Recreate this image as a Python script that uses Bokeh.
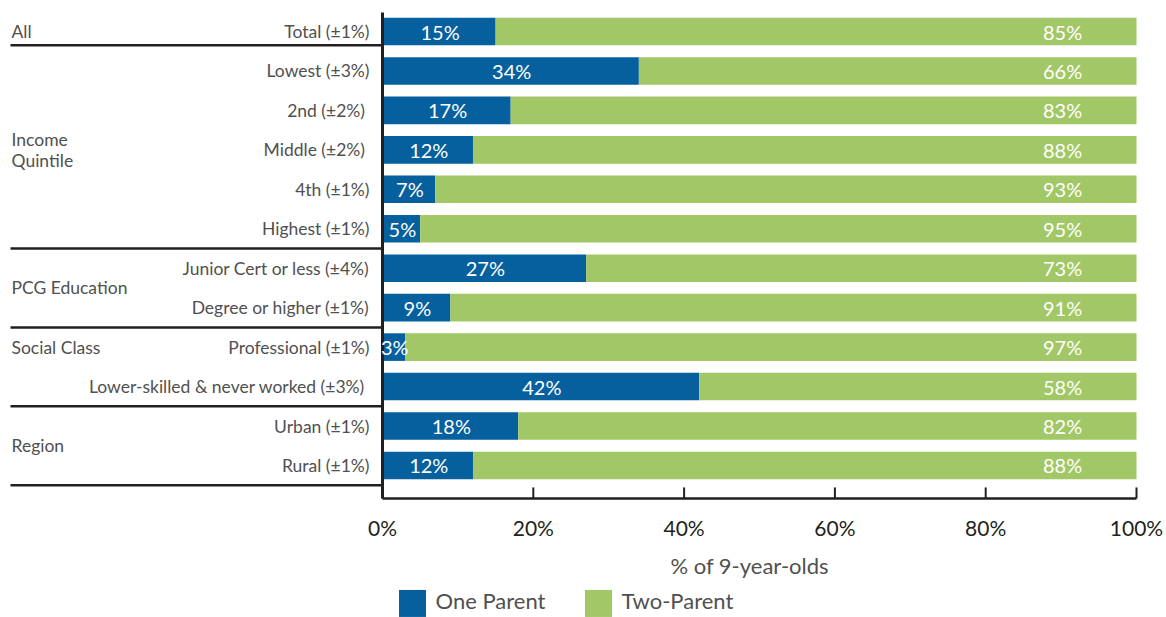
from bokeh.plotting import figure
from bokeh.models import Range1d, ColumnDataSource
from bokeh.embed import file_html
from bokeh.resources import INLINE
from bokeh.core.properties import value

# ---------------- data ----------------
categories = [
    "Total (±1%)", "Lowest (±3%)", "2nd  (±2%)", "Middle  (±2%)", "4th (±1%)",
    "Highest (±1%)", "Junior Cert or less (±4%)", "Degree or higher (±1%)",
    "Professional (±1%)", "Lower-skilled & never worked  (±3%)",
    "Urban (±1%)", "Rural (±1%)",
]
one_parent = [15, 34, 17, 12, 7, 5, 27, 9, 3, 42, 18, 12]
two_parent = [85, 66, 83, 88, 93, 95, 73, 91, 97, 58, 82, 88]
groups = ["All", "Income\nQuintile", "PCG Education", "Social Class", "Region"]
group_sizes = [1, 5, 2, 2, 2]
group_label_rows = [0, 3, 6.5, 8, 10.5]
x_ticks = [0, 20, 40, 60, 80, 100]
tick_labels = ["0%", "20%", "40%", "60%", "80%", "100%"]
x_title = "% of 9-year-olds"
series_names = ["One Parent", "Two-Parent"]

# ---------------- style / layout ----------------
BLUE = "#05609d"
GREEN = "#a2c766"
DARK = "#231f20"
GREY = "#505050"
FONT = "Lato"

W, H = 1166, 617
PX_X = 7.54      # pixels per percentage point
PX_Y = 39.45     # pixels per row
X0_PX = 382      # pixel of 0 %
Y0_PX = 31       # pixel of first row centre

rows = list(range(len(categories)))
bar_h = 0.7
x_min = -X0_PX / PX_X
x_max = (W - X0_PX) / PX_X
y_min = -Y0_PX / PX_Y
y_max = (H - Y0_PX) / PX_Y

axis_y = len(categories) - 1 + 33 / PX_Y       # bottom axis line
top_y = -19 / PX_Y                             # top of vertical axis line
sep_x0 = (10 - X0_PX) / PX_X                   # left end of separators / group labels

src = ColumnDataSource(dict(
    y=rows,
    cat=categories,
    one_end=one_parent,
    two_end=[a + b for a, b in zip(one_parent, two_parent)],
    one_mid=[a / 2 for a in one_parent],
    one_lbl=[f"{a}%" for a in one_parent],
    two_lbl=[f"{b}%" for b in two_parent],
    two_pos=[90.2] * len(rows),
))

p = figure(
    width=W, height=H,
    x_range=Range1d(x_min, x_max), y_range=Range1d(y_max, y_min),
    output_backend="svg", toolbar_location=None,
    x_axis_location=None, y_axis_location=None,
    min_border=0,
)
p.outline_line_color = None
p.grid.visible = False
p.background_fill_color = "white"
p.border_fill_color = "white"

r1 = p.hbar(y="y", left=0, right="one_end", height=bar_h, source=src,
            fill_color=BLUE, line_color=None)
r2 = p.hbar(y="y", left="one_end", right="two_end", height=bar_h, source=src,
            fill_color=GREEN, line_color=None)

# group separator lines
sep_y = []
acc = 0
for i, n in enumerate(group_sizes):
    acc += n
    last = acc - 1
    sep_y.append(last + bar_h / 2 if i == 0 else last + 0.5)
p.segment(x0=[sep_x0] * len(sep_y), x1=[0] * len(sep_y), y0=sep_y, y1=sep_y,
          line_color=DARK, line_width=2.5)

# axis lines
p.segment(x0=[0], x1=[0], y0=[top_y], y1=[axis_y], line_color=DARK, line_width=3)
p.segment(x0=[0], x1=[100], y0=[axis_y], y1=[axis_y], line_color=DARK, line_width=2.5)

# ticks and tick labels
p.segment(x0=x_ticks, x1=x_ticks, y0=[axis_y] * len(x_ticks),
          y1=[axis_y - 11 / PX_Y] * len(x_ticks), line_color=DARK, line_width=2)
p.text(x=x_ticks, y=[axis_y] * len(x_ticks), text=tick_labels, y_offset=29,
       text_align="center", text_baseline="middle", text_color=DARK,
       text_font=value(FONT), text_font_size="21px")

# bar value labels
p.text(x="one_mid", y="y", text="one_lbl", source=src, x_offset=1, text_align="center",
       text_baseline="middle", text_color="white", text_font=value(FONT),
       text_font_size="20px")
p.text(x="two_pos", y="y", text="two_lbl", source=src, text_align="center",
       text_baseline="middle", text_color="white", text_font=value(FONT),
       text_font_size="20px")

# category labels
p.text(x=0, y="y", text="cat", source=src, x_offset=-13, text_align="right",
       text_baseline="middle", text_color=GREY, text_font=value(FONT),
       text_font_size="17.5px")

# group labels
p.text(x=[sep_x0] * len(groups), y=group_label_rows, text=groups, x_offset=1,
       text_align="left", text_baseline="middle", text_color=GREY,
       text_font=value(FONT), text_font_size="17.5px", text_line_height=1.03)

# axis title
p.text(x=[48.7], y=[axis_y], text=[x_title], y_offset=67, text_align="center",
       text_baseline="middle", text_color=GREY, text_font=value(FONT),
       text_font_size="22px")

# legend
leg_x = [(412 - X0_PX) / PX_X, (598 - X0_PX) / PX_X]
p.rect(x=leg_x, y=[axis_y + 105 / PX_Y] * 2, width=27, height=27,
       width_units="screen", height_units="screen",
       fill_color=[BLUE, GREEN], line_color=None)
p.text(x=leg_x, y=[axis_y] * 2, text=series_names, x_offset=23, y_offset=102,
       text_align="left", text_baseline="middle", text_color=GREY,
       text_font=value(FONT), text_font_size="22px")

open("out.html", "w").write(file_html(p, INLINE))
